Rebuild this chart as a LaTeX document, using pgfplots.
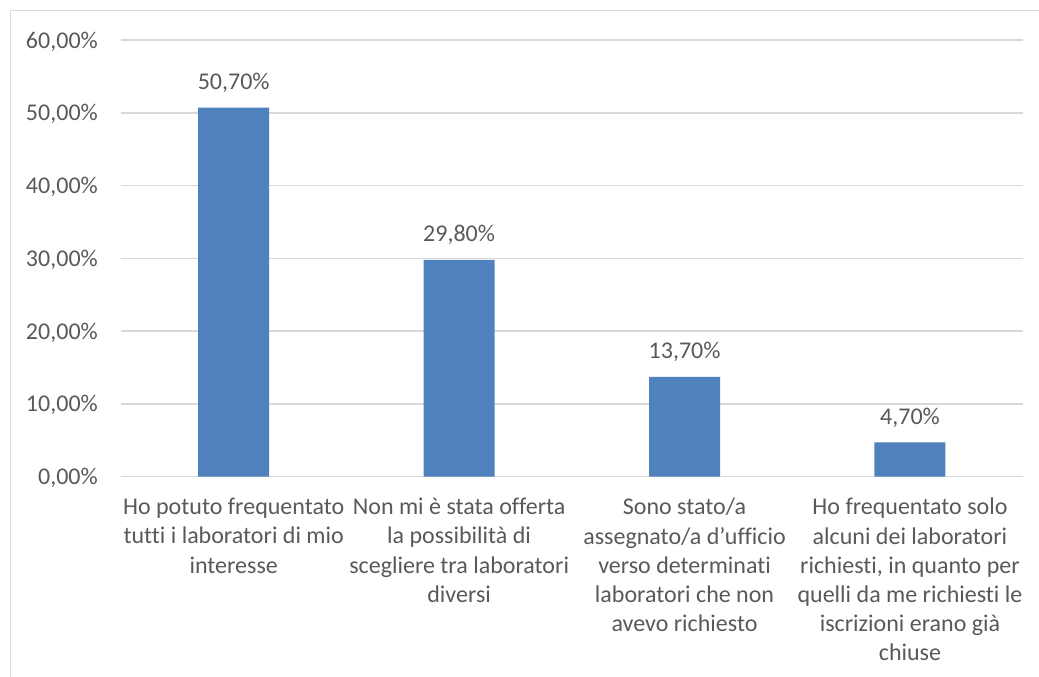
\documentclass[border=0pt]{standalone}
\usepackage{fontspec}
\setmainfont[Ligatures={NoCommon}]{Carlito}
\usepackage{pgfplots}
\pgfplotsset{compat=1.18}
\definecolor{barblue}{RGB}{79,129,189}
\definecolor{txtgray}{RGB}{89,89,89}
\definecolor{gridgray}{RGB}{217,217,217}
\begin{document}
\begin{tikzpicture}[x=1pt,y=1pt]
\useasboundingbox (0,0) rectangle (1039,-677);
\draw[gridgray, line width=1.5pt] (10.5,-677) -- (10.5,-10.5) -- (1039,-10.5);
\begin{axis}[
  at={(121pt,-476.7pt)}, anchor=south west,
  scale only axis, width=901.7pt, height=436.7pt,
  xmin=-0.5, xmax=3.5, ymin=0, ymax=60,
  clip=false,
  axis line style={draw=none}, tick style={draw=none},
  ymajorgrids, grid style={gridgray, line width=1.5pt},
  ytick={0,10,20,30,40,50,60},
  yticklabels={{0,00\%},{10,00\%},{20,00\%},{30,00\%},{40,00\%},{50,00\%},{60,00\%}},
  xtick={0,1,2,3},
  xticklabels={
    {Ho potuto frequentato\\tutti i laboratori di mio\\interesse},
    {Non mi è stata offerta\\la possibilità di\\scegliere tra laboratori\\diversi},
    {Sono stato/a\\assegnato/a d’ufficio\\verso determinati\\laboratori che non\\avevo richiesto},
    {Ho frequentato solo\\alcuni dei laboratori\\richiesti, in quanto per\\quelli da me richiesti le\\iscrizioni erano già\\chiuse}},
  tick label style={font=\fontsize{24}{29.2}\selectfont, text=txtgray},
  xticklabel style={align=center, anchor=north, inner sep=0pt, yshift=-17pt},
  yticklabel style={anchor=base east, inner sep=0pt, xshift=-23pt, yshift=-8pt},
  ybar, bar width=71pt,
  point meta=explicit symbolic,
  nodes near coords,
  nodes near coords style={font=\fontsize{24}{29.2}\selectfont, text=txtgray, anchor=base, inner sep=0pt, yshift=18pt},
]
\addplot[fill=barblue, draw=none] coordinates {
  (0,50.7) [50,70\%]
  (1,29.8) [29,80\%]
  (2,13.7) [13,70\%]
  (3,4.7)  [4,70\%]
};
\end{axis}
\end{tikzpicture}
\end{document}
